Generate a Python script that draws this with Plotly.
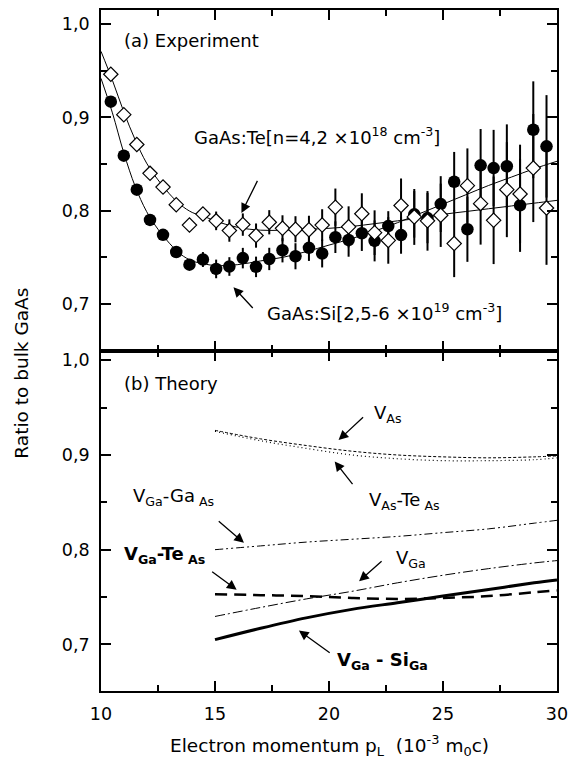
import plotly.graph_objects as go

# ---------------- data: (a) experiment ----------------
p_exp = [10.43, 11.0, 11.57, 12.15, 12.72, 13.3, 13.88, 14.47, 15.05, 15.63, 16.22, 16.8,
         17.38, 17.96, 18.53, 19.12, 19.7, 20.28, 20.86, 21.44, 22.0, 22.6, 23.16, 23.74,
         24.32, 24.9, 25.49, 26.07, 26.65, 27.22, 27.8, 28.38, 28.96, 29.54]
si_ratio = [0.917, 0.859, 0.8225, 0.790, 0.774, 0.7556, 0.742, 0.7475, 0.7374, 0.740, 0.749, 0.7396,
            0.7481, 0.7574, 0.751, 0.760, 0.754, 0.7715, 0.7685, 0.7757, 0.7675, 0.7834, 0.7737, 0.796,
            0.792, 0.807, 0.831, 0.780, 0.8486, 0.8457, 0.8476, 0.8057, 0.8868, 0.869]
si_err = [0.004, 0.004, 0.004, 0.004, 0.004, 0.004, 0.004, 0.008, 0.010, 0.010, 0.011, 0.011,
          0.012, 0.013, 0.014, 0.014, 0.015, 0.017, 0.018, 0.019, 0.022, 0.016, 0.020, 0.025,
          0.027, 0.030, 0.032, 0.035, 0.039, 0.041, 0.045, 0.050, 0.052, 0.055]
te_ratio = [0.9464, 0.903, 0.871, 0.840, 0.8253, 0.8064, 0.7845, 0.7963, 0.789, 0.7786, 0.785, 0.7732,
            0.7875, 0.781, 0.780, 0.7795, 0.7845, 0.8037, 0.7826, 0.7966, 0.7763, 0.768, 0.8055, 0.7932,
            0.789, 0.795, 0.7646, 0.8268, 0.8075, 0.7896, 0.8225, 0.8178, 0.8457, 0.8028]
te_err = [0.004, 0.004, 0.004, 0.004, 0.004, 0.004, 0.004, 0.007, 0.010, 0.012, 0.012, 0.013,
          0.013, 0.014, 0.014, 0.015, 0.017, 0.020, 0.022, 0.022, 0.024, 0.025, 0.029, 0.030,
          0.032, 0.034, 0.036, 0.040, 0.044, 0.047, 0.051, 0.053, 0.058, 0.061]

p_fit = [10, 10.5, 11, 11.5, 12, 12.5, 13, 13.5, 14, 14.5, 15, 16, 17, 18, 19, 20, 21, 22, 23, 24,
         25, 26, 27, 28, 29, 30]
si_fit = [0.942, 0.905, 0.862, 0.826, 0.799, 0.780, 0.765, 0.753, 0.746, 0.743, 0.741, 0.742, 0.746,
          0.750, 0.756, 0.763, 0.770, 0.778, 0.787, 0.797, 0.807, 0.817, 0.827, 0.836, 0.845, 0.853]
te_fit = [0.971, 0.940, 0.906, 0.876, 0.851, 0.833, 0.818, 0.806, 0.798, 0.794, 0.789, 0.782, 0.779,
          0.779, 0.780, 0.781, 0.783, 0.786, 0.789, 0.792, 0.796, 0.799, 0.802, 0.805, 0.808, 0.811]

# ---------------- data: (b) theory ----------------
p_th = [15, 17, 19, 21, 23, 25, 27, 29, 30]
v_as = [0.926, 0.917, 0.910, 0.904, 0.900, 0.898, 0.897, 0.898, 0.899]
v_as_te = [0.925, 0.915, 0.907, 0.900, 0.896, 0.894, 0.894, 0.895, 0.897]
v_ga_ga = [0.800, 0.804, 0.808, 0.811, 0.814, 0.818, 0.822, 0.828, 0.831]
v_ga = [0.7295, 0.739, 0.748, 0.756, 0.765, 0.773, 0.780, 0.786, 0.7885]
v_ga_te = [0.753, 0.752, 0.751, 0.749, 0.748, 0.749, 0.751, 0.755, 0.757]
v_ga_si = [0.705, 0.717, 0.728, 0.737, 0.744, 0.751, 0.758, 0.765, 0.768]

FONT = "DejaVu Sans, Liberation Sans, Arial"
LAB = 18
TITLE = 18.5

fig = go.Figure()

# top panel fits
fig.add_trace(go.Scatter(x=p_fit, y=si_fit, mode="lines", line=dict(color="black", width=1, shape="spline"),
                         xaxis="x2", yaxis="y2", hoverinfo="skip"))
fig.add_trace(go.Scatter(x=p_fit, y=te_fit, mode="lines", line=dict(color="black", width=1, shape="spline"),
                         xaxis="x2", yaxis="y2", hoverinfo="skip"))
# data points
fig.add_trace(go.Scatter(x=p_exp, y=si_ratio, mode="markers",
                         marker=dict(symbol="circle", size=12.5, color="black"),
                         error_y=dict(type="data", array=si_err, visible=True, thickness=2, width=0, color="black"),
                         xaxis="x2", yaxis="y2"))
fig.add_trace(go.Scatter(x=p_exp, y=te_ratio, mode="markers",
                         marker=dict(symbol="diamond", size=11, color="white", line=dict(color="black", width=1.2)),
                         error_y=dict(type="data", array=te_err, visible=True, thickness=2, width=0, color="black"),
                         xaxis="x2", yaxis="y2"))

# theory lines
fig.add_trace(go.Scatter(x=p_th, y=v_as, mode="lines", line=dict(color="black", width=1, dash="3px,2px", shape="spline")))
fig.add_trace(go.Scatter(x=p_th, y=v_as_te, mode="lines", line=dict(color="black", width=1.2, dash="1px,3px", shape="spline")))
fig.add_trace(go.Scatter(x=p_th, y=v_ga_ga, mode="lines", line=dict(color="black", width=1, dash="8px,3px,2px,3px,2px,3px", shape="spline")))
fig.add_trace(go.Scatter(x=p_th, y=v_ga, mode="lines", line=dict(color="black", width=1, dash="10px,3px,2px,3px", shape="spline")))
fig.add_trace(go.Scatter(x=p_th, y=v_ga_te, mode="lines", line=dict(color="black", width=2.5, dash="12px,7px", shape="spline")))
fig.add_trace(go.Scatter(x=p_th, y=v_ga_si, mode="lines", line=dict(color="black", width=3, shape="spline")))

axis_common = dict(showline=True, linewidth=1.8, linecolor="black", mirror="allticks",
                   ticks="inside", ticklen=10, tickwidth=1.5, tickcolor="black",
                   showgrid=False, zeroline=False, ticklabeloverflow="allow",
                   tickfont=dict(family=FONT, size=17.5, color="black"))

fig.update_layout(
    width=576, height=764,
    margin=dict(l=101, r=10, t=8, b=73),
    paper_bgcolor="white", plot_bgcolor="white",
    showlegend=False,
    separators=",.",
    font=dict(family=FONT, size=LAB, color="black"),
    xaxis=dict(range=[10, 30], dtick=5, tick0=10, anchor="y", ticklabelstandoff=6,
               minor=dict(ticks="inside", ticklen=6, dtick=2.5, tick0=10, tickwidth=1.5, tickcolor="black"),
               **axis_common),
    xaxis2=dict(range=[10, 30], dtick=5, tick0=10, anchor="y2", matches="x", showticklabels=False,
                minor=dict(ticks="inside", ticklen=6, dtick=2.5, tick0=10, tickwidth=1.5, tickcolor="black"),
                **axis_common),
    yaxis=dict(range=[0.6508, 1.0098], domain=[0, 0.4993], dtick=0.1, tick0=0.7, tickformat=".1f",
               anchor="x", ticklabelstandoff=6,
               minor=dict(ticks="inside", ticklen=6, dtick=0.05, tick0=0.7, tickwidth=1.5, tickcolor="black"),
               **axis_common),
    yaxis2=dict(range=[0.6493, 1.0154], domain=[0.4993, 1], dtick=0.1, tick0=0.7, tickformat=".1f",
                anchor="x2", ticklabelstandoff=6,
                minor=dict(ticks="inside", ticklen=6, dtick=0.05, tick0=0.7, tickwidth=1.5, tickcolor="black"),
                **axis_common),
)

ann = []
# axis titles
ann.append(dict(text="Ratio to bulk GaAs", xref="paper", yref="paper", x=-0.174, y=0.467,
                textangle=-90, showarrow=False, font=dict(size=TITLE), xanchor="center", yanchor="middle"))
ann.append(dict(text="Electron momentum p<sub>L</sub>  (10<sup>-3</sup> m<sub>0</sub>c)", xref="paper", yref="paper",
                x=0.5, y=-0.08, showarrow=False, font=dict(size=TITLE), xanchor="center", yanchor="middle"))

# panel (a) labels
ann.append(dict(text="(a) Experiment", xref="x2", yref="y2", x=10.9, y=0.9825, showarrow=False,
                xanchor="left", yanchor="middle"))
ann.append(dict(text="GaAs:Te[n=4,2 \u00d710<sup>18</sup> cm<sup>-3</sup>]", xref="x2", yref="y2", x=14.0, y=0.880,
                showarrow=False, xanchor="left", yanchor="middle"))
ann.append(dict(text="GaAs:Si[2,5-6 \u00d710<sup>19</sup> cm<sup>-3</sup>]", xref="x2", yref="y2", x=17.18, y=0.691,
                showarrow=False, xanchor="left", yanchor="middle"))
# panel (b) labels
ann.append(dict(text="(b) Theory", xref="x", yref="y", x=10.9, y=0.975, showarrow=False,
                xanchor="left", yanchor="middle"))
lab_b = [
    ("V<sub>As</sub>", 21.87, 0.943),
    ("V<sub>As</sub>-Te<sub> As</sub>", 21.66, 0.851),
    ("V<sub>Ga</sub>-Ga<sub> As</sub>", 11.33, 0.856),
    ("<b>V<sub>Ga</sub>-Te<sub> As</sub></b>", 10.9, 0.794),
    ("V<sub>Ga</sub>", 22.86, 0.790),
    ("<b>V<sub>Ga</sub> - Si<sub>Ga</sub></b>", 20.28, 0.682),
]
for t, x, y in lab_b:
    ann.append(dict(text=t, xref="x", yref="y", x=x, y=y, showarrow=False, xanchor="left", yanchor="middle"))

# arrows: (axis, head x, head y, tail dx px, tail dy px)
arrows = [
    ("x2", "y2", 16.16, 0.7974, 16.7, -33.7),
    ("x2", "y2", 15.81, 0.7178, 20.7, 22.3),
    ("x", "y", 20.42, 0.9157, 26, -24.3),
    ("x", "y", 20.25, 0.8932, 19, 24.3),
    ("x", "y", 16.27, 0.8072, -26.7, -23),
    ("x", "y", 15.95, 0.7576, -26, -19.3),
    ("x", "y", 21.32, 0.7667, 24, -21.4),
    ("x", "y", 18.68, 0.7147, 32.3, 23.3),
]
for xr, yr, x, y, dx, dy in arrows:
    ann.append(dict(text="", xref=xr, yref=yr, x=x, y=y, ax=dx, ay=dy, showarrow=True,
                    arrowhead=2, arrowsize=1.5, arrowwidth=1.3, arrowcolor="black", standoff=0))

fig.update_layout(annotations=ann)

fig.write_html("out.html")
